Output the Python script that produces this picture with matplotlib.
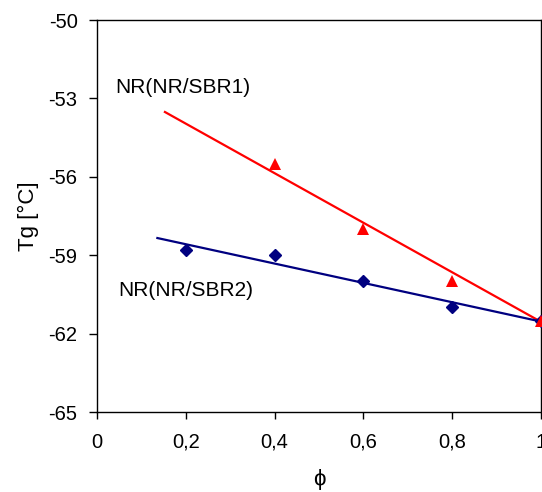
import numpy as np
import matplotlib
matplotlib.use('Agg')
import matplotlib.pyplot as plt
from matplotlib.ticker import FuncFormatter

plt.rcParams['font.family'] = ['Liberation Sans', 'DejaVu Sans']

# Tg measured against phi for the two blends
phi_sbr2 = [0.2, 0.4, 0.6, 0.8, 1.0]
tg_sbr2 = [-58.8, -59.0, -60.0, -61.0, -61.5]
phi_sbr1 = [0.4, 0.6, 0.8, 1.0]
tg_sbr1 = [-55.5, -58.0, -60.0, -61.5]

# linear trend lines (slope, intercept) and the phi range they span
trend_sbr1 = (-9.48, -52.07)
trend_sbr1_range = (0.153, 1.0)
trend_sbr2 = (-3.70, -57.84)
trend_sbr2_range = (0.136, 1.0)

x_ticks = [0, 0.2, 0.4, 0.6, 0.8, 1.0]
y_ticks = [-65, -62, -59, -56, -53, -50]

fig = plt.figure(figsize=(5.42, 4.92), dpi=100)
ax = fig.add_axes([97 / 542, 80 / 492, 444 / 542, 392 / 492])

# trend lines
for (m, b), (x0, x1), col in [(trend_sbr1, trend_sbr1_range, '#ff0000'),
                              (trend_sbr2, trend_sbr2_range, '#000080')]:
    xs = np.array([x0, x1])
    ax.plot(xs, m * xs + b, color=col, lw=1.6, zorder=2)

ax.plot(phi_sbr2, tg_sbr2, 'D', color='#000080', markersize=5.8,
        clip_on=False, zorder=3)
ax.plot(phi_sbr1, tg_sbr1, '^', color='#ff0000', markersize=8,
        markeredgewidth=0, clip_on=False, zorder=4)

ax.text(0.04, -52.6, 'NR(NR/SBR1)', fontsize=15, va='center', ha='left')
ax.text(0.047, -60.35, 'NR(NR/SBR2)', fontsize=15, va='center', ha='left')

ax.set_xlim(0, 1)
ax.set_ylim(-65, -50)
ax.set_xticks(x_ticks)
ax.set_yticks(y_ticks)
ax.xaxis.set_major_formatter(FuncFormatter(
    lambda v, p: '0' if v == 0 else ('1' if v == 1 else f'{v:.1f}'.replace('.', ','))))
ax.yaxis.set_major_formatter(FuncFormatter(lambda v, p: f'{int(v)}'))

ax.tick_params(axis='both', direction='out', labelsize=14.5, width=1, colors='black')
ax.tick_params(axis='y', length=6, pad=8)
ax.tick_params(axis='x', length=5, pad=10)
for s in ax.spines.values():
    s.set_linewidth(1)

ax.set_xlabel('ϕ', fontsize=16, labelpad=12)
ax.set_ylabel('Tg [°C]', fontsize=16, labelpad=7)

fig.savefig('out.png', dpi=100)
plt.close(fig)
